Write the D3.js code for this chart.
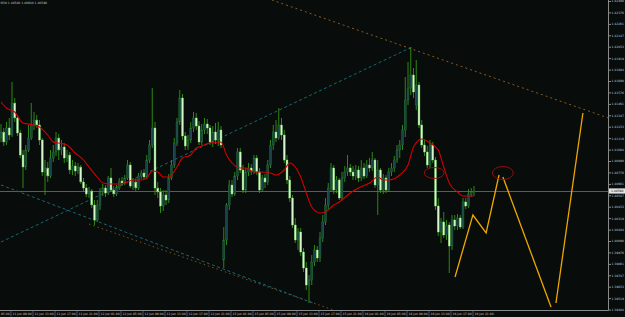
<!DOCTYPE html>
<html>
<head>
<meta charset="utf-8">
<script src="https://cdn.jsdelivr.net/npm/d3@7"></script>
<style>
html, body { margin: 0; padding: 0; background: #080c0a; }
svg { display: block; }
</style>
</head>
<body>
<svg id="chart" width="625" height="317"></svg>
<script>
// EURUSD M30 bars, 11 Jun - 16 Jun
var opens = [1.4112,1.4118,1.4108,1.4122,1.4115,1.4147,1.4132,1.4117,1.4095,1.4083,1.4100,1.4112,1.4125,1.4130,1.4125,1.4110,1.4078,1.4082,1.4074,1.4092,
  1.4098,1.4112,1.4100,1.4103,1.4092,1.4095,1.4080,1.4084,1.4079,1.4083,1.4068,1.4062,1.4056,1.4059,1.4045,1.4030,1.4045,1.4058,1.4062,1.4057,
  1.4072,1.4060,1.4056,1.4062,1.4069,1.4067,1.4072,1.4085,1.4064,1.4068,1.4062,1.4074,1.4077,1.4073,1.4090,1.4105,1.4122,1.4062,1.4058,1.4044,
  1.4055,1.4050,1.4072,1.4085,1.4107,1.4128,1.4152,1.4114,1.4104,1.4110,1.4122,1.4132,1.4124,1.4108,1.4120,1.4126,1.4122,1.4108,1.4118,1.4110,
  1.4120,1.3990,1.4010,1.4045,1.4065,1.4056,1.4074,1.4098,1.4080,1.4060,1.4078,1.4082,1.4079,1.4092,1.4078,1.4060,1.4072,1.4068,1.4085,1.4105,
  1.4118,1.4112,1.4125,1.4115,1.4090,1.4070,1.4052,1.4025,1.4010,1.4018,1.3998,1.3982,1.3965,1.3970,1.3988,1.4000,1.3992,1.4012,1.4028,1.4045,
  1.4062,1.4082,1.4060,1.4070,1.4052,1.4072,1.4078,1.4082,1.4078,1.4074,1.4080,1.4072,1.4082,1.4074,1.4085,1.4082,1.4090,1.4065,1.4080,1.4060,
  1.4072,1.4060,1.4078,1.4082,1.4090,1.4100,1.4105,1.4120,1.4150,1.4162,1.4175,1.4145,1.4165,1.4125,1.4105,1.4098,1.4085,1.4105,1.4090,1.4044,
  1.4018,1.4028,1.4015,1.4025,1.4004,1.4030,1.4024,1.4032,1.4023,1.4048,1.4044,1.4056,1.4058];
var highs = [1.4126,1.4122,1.4128,1.4132,1.4168,1.4152,1.4135,1.4120,1.4100,1.4105,1.4125,1.4147,1.4138,1.4135,1.4130,1.4112,1.4090,1.4088,1.4100,1.4105,
  1.4118,1.4116,1.4110,1.4107,1.4100,1.4098,1.4090,1.4088,1.4087,1.4085,1.4072,1.4066,1.4063,1.4061,1.4050,1.4050,1.4062,1.4066,1.4065,1.4074,
  1.4082,1.4064,1.4065,1.4072,1.4073,1.4075,1.4090,1.4088,1.4072,1.4071,1.4077,1.4080,1.4081,1.4095,1.4110,1.4162,1.4128,1.4068,1.4062,1.4060,
  1.4060,1.4076,1.4090,1.4112,1.4132,1.4160,1.4156,1.4118,1.4115,1.4128,1.4138,1.4137,1.4129,1.4126,1.4132,1.4131,1.4125,1.4124,1.4127,1.4128,
  1.4124,1.4023,1.4047,1.4070,1.4070,1.4078,1.4102,1.4102,1.4085,1.4082,1.4087,1.4086,1.4095,1.4095,1.4082,1.4075,1.4076,1.4090,1.4110,1.4125,
  1.4130,1.4142,1.4132,1.4120,1.4095,1.4074,1.4055,1.4032,1.4022,1.4022,1.4002,1.3988,1.3975,1.3995,1.4005,1.4004,1.4018,1.4035,1.4052,1.4067,
  1.4087,1.4085,1.4074,1.4072,1.4078,1.4084,1.4095,1.4086,1.4084,1.4085,1.4084,1.4090,1.4087,1.4090,1.4092,1.4098,1.4092,1.4090,1.4082,1.4076,
  1.4075,1.4082,1.4087,1.4094,1.4105,1.4110,1.4125,1.4173,1.4188,1.4203,1.4182,1.4190,1.4168,1.4130,1.4110,1.4104,1.4110,1.4108,1.4093,1.4052,
  1.4032,1.4038,1.4030,1.4028,1.4035,1.4035,1.4036,1.4035,1.4052,1.4052,1.4061,1.4062,1.4064];
var lows = [1.4108,1.4104,1.4105,1.4110,1.4113,1.4128,1.4114,1.4092,1.4062,1.4080,1.4098,1.4110,1.4120,1.4122,1.4105,1.4074,1.4055,1.4068,1.4072,1.4088,
  1.4094,1.4090,1.4095,1.4087,1.4088,1.4076,1.4075,1.4074,1.4076,1.4066,1.4058,1.4053,1.4052,1.4042,1.4025,1.4028,1.4040,1.4054,1.4053,1.4055,
  1.4058,1.4053,1.4054,1.4060,1.4064,1.4065,1.4070,1.4062,1.4060,1.4059,1.4060,1.4071,1.4070,1.4071,1.4087,1.4102,1.4055,1.4052,1.4037,1.4039,
  1.4045,1.4047,1.4070,1.4082,1.4104,1.4125,1.4110,1.4100,1.4100,1.4107,1.4118,1.4120,1.4105,1.4105,1.4116,1.4116,1.4105,1.4103,1.4106,1.4104,
  1.4102,1.3982,1.4005,1.4040,1.4053,1.4054,1.4070,1.4077,1.4057,1.4057,1.4074,1.4075,1.4076,1.4075,1.4057,1.4058,1.4062,1.4065,1.4082,1.4100,
  1.4108,1.4110,1.4110,1.4087,1.4066,1.4048,1.4022,1.4007,1.4000,1.3994,1.3978,1.3960,1.3947,1.3965,1.3984,1.3988,1.3988,1.4008,1.4025,1.4040,
  1.4058,1.4056,1.4057,1.4050,1.4050,1.4068,1.4074,1.4074,1.4070,1.4070,1.4068,1.4069,1.4071,1.4072,1.4078,1.4079,1.4062,1.4035,1.4057,1.4056,
  1.4057,1.4058,1.4074,1.4078,1.4087,1.4092,1.4100,1.4113,1.4145,1.4155,1.4152,1.4140,1.4122,1.4102,1.4094,1.4082,1.4082,1.4087,1.4040,1.4014,
  1.4007,1.4012,1.4010,1.3977,1.4000,1.4020,1.4020,1.4021,1.4021,1.4041,1.4042,1.4053,1.4054];
var closes = [1.4118,1.4108,1.4122,1.4115,1.4147,1.4132,1.4117,1.4095,1.4083,1.4100,1.4112,1.4125,1.4130,1.4125,1.4110,1.4078,1.4082,1.4074,1.4092,1.4098,
  1.4112,1.4100,1.4103,1.4092,1.4095,1.4080,1.4084,1.4079,1.4083,1.4068,1.4062,1.4056,1.4059,1.4045,1.4030,1.4045,1.4058,1.4062,1.4057,1.4072,
  1.4060,1.4056,1.4062,1.4069,1.4067,1.4072,1.4085,1.4064,1.4068,1.4062,1.4074,1.4077,1.4073,1.4090,1.4105,1.4122,1.4062,1.4058,1.4044,1.4055,
  1.4050,1.4072,1.4085,1.4107,1.4128,1.4152,1.4114,1.4104,1.4110,1.4122,1.4132,1.4124,1.4108,1.4120,1.4126,1.4122,1.4108,1.4118,1.4110,1.4120,
  1.4105,1.4010,1.4045,1.4065,1.4056,1.4074,1.4098,1.4080,1.4060,1.4078,1.4082,1.4079,1.4092,1.4078,1.4060,1.4072,1.4068,1.4085,1.4105,1.4118,
  1.4112,1.4125,1.4115,1.4090,1.4070,1.4052,1.4025,1.4010,1.4018,1.3998,1.3982,1.3965,1.3970,1.3988,1.4000,1.3992,1.4012,1.4028,1.4045,1.4062,
  1.4082,1.4060,1.4070,1.4052,1.4072,1.4078,1.4082,1.4078,1.4074,1.4080,1.4072,1.4082,1.4074,1.4085,1.4082,1.4090,1.4065,1.4080,1.4060,1.4072,
  1.4060,1.4078,1.4082,1.4090,1.4100,1.4105,1.4120,1.4150,1.4162,1.4175,1.4158,1.4165,1.4125,1.4105,1.4098,1.4085,1.4105,1.4090,1.4044,1.4018,
  1.4028,1.4015,1.4025,1.4004,1.4030,1.4024,1.4032,1.4023,1.4048,1.4044,1.4056,1.4058,1.4059];

// moving average read at some bars
var maBars = [0,2,5,8,12,14,17,19,21,24,27,30,32,35,37,40,43,46,48,51,53,55,57,59,61,64,66,69,71,72,76,80,82,84,87,89,92,95,98,100,
  103,105,107,109,111,113,116,118,121,123,127,130,134,137,139,141,145,148,150,152,153,156,159,161,163,166,168,172];
var maVals = [1.4148,1.4142,1.4138,1.4127,1.4125,1.4123,1.4115,1.4108,1.4107,1.4105,1.4097,1.4090,1.4083,1.4073,1.4067,1.4066,1.4066,1.4068,1.4070,1.4070,
  1.4072,1.4079,1.4078,1.4073,1.4073,1.4083,1.4092,1.4095,1.4102,1.4103,1.4107,1.4108,1.4095,1.4087,1.4082,1.4082,1.4078,1.4078,1.4077,1.4075,
  1.4080,1.4087,1.4083,1.4073,1.4057,1.4043,1.4037,1.4038,1.4045,1.4048,1.4057,1.4062,1.4067,1.4073,1.4070,1.4070,1.4075,1.4085,1.4103,1.4110,
  1.4111,1.4107,1.4100,1.4083,1.4067,1.4058,1.4054,1.4054];

var timeBars = [-4,4,12,20,28,36,44,52,60,68,76,84,92,100,108,116,124,132,140,148,156,164,172];
var timeLabels = ['11 Jun 05:00','11 Jun 09:00','11 Jun 13:00','11 Jun 17:00','11 Jun 21:00','12 Jun 01:00','12 Jun 05:00','12 Jun 09:00',
  '12 Jun 13:00','12 Jun 17:00','12 Jun 21:00','15 Jun 01:00','15 Jun 05:00','15 Jun 09:00','15 Jun 13:00','15 Jun 17:00','15 Jun 21:00',
  '16 Jun 01:00','16 Jun 05:00','16 Jun 09:00','16 Jun 13:00','16 Jun 17:00','16 Jun 21:00'];
var priceTicks = [1.42490,1.42376,1.42261,1.42147,1.42033,1.41919,1.41804,1.41690,1.41576,1.41461,1.41347,1.41233,1.41119,1.41004,
  1.40890,1.40776,1.40661,1.40547,1.40433,1.40319,1.40204,1.40090,1.39976,1.39861,1.39747,1.39633,1.39519,1.39404];
var bidPrice = 1.40590;
var header = 'M30 1.40580 1.40640 1.40590';

// drawn objects: [bar, price] end points
var channelUp = [[0, 1.4008], [149.5, 1.4203]];
var channelDown = [[0, 1.4065], [113.5, 1.3947]];
var resistLine = [[98.5, 1.4250], [224, 1.4129]];
var supportLine = [[32, 1.4026], [125, 1.3936]];
var zigzag = [
  [[165.1, 1.3973], [171.6, 1.4035], [176.4, 1.4017], [181.1, 1.4075]],
  [[182.5, 1.4073], [200, 1.3943]],
  [[201.8, 1.3947], [211.6, 1.4137]]
];
var ellipses = [[157.5, 1.4077, 3.6, 0.00055], [182.5, 1.4077, 3.8, 0.00065]];

var W = 625, H = 317, plotW = 608, plotH = 310;
var svg = d3.select('#chart');
svg.append('rect').attr('width', W).attr('height', H).attr('fill', '#080c0a');

var x = d3.scaleLinear().domain([0, 220]).range([1, 1 + 220 * 2.75]);
var y = d3.scaleLinear().domain([1.3940, 1.4250]).range([plotH, 0]);

svg.append('clipPath').attr('id', 'clip')
  .append('rect').attr('width', plotW).attr('height', plotH);
var plot = svg.append('g').attr('clip-path', 'url(#clip)');

// bid line
plot.append('line')
  .attr('x1', 0).attr('x2', plotW)
  .attr('y1', Math.round(y(bidPrice)) + 0.5).attr('y2', Math.round(y(bidPrice)) + 0.5)
  .attr('stroke', '#5c5c5c').attr('stroke-width', 1);

var line = d3.line().x(function (d) { return x(d[0]); }).y(function (d) { return y(d[1]); });

// channel lines
plot.append('path').attr('d', line(supportLine))
  .attr('fill', 'none').attr('stroke', '#7a5020').attr('stroke-width', 1).attr('stroke-dasharray', '1.5,3');
plot.append('path').attr('d', line(channelUp))
  .attr('fill', 'none').attr('stroke', '#1b6670').attr('stroke-width', 1).attr('stroke-dasharray', '3,2.5');
plot.append('path').attr('d', line(channelDown))
  .attr('fill', 'none').attr('stroke', '#1b6670').attr('stroke-width', 1).attr('stroke-dasharray', '3,2.5');
plot.append('path').attr('d', line(resistLine))
  .attr('fill', 'none').attr('stroke', '#8a5a22').attr('stroke-width', 1).attr('stroke-dasharray', '2,3');

// candles
var bars = d3.range(closes.length);
var bw = 1.9;
plot.append('g').selectAll('line')
  .data(bars).enter().append('line')
  .attr('x1', function (i) { return x(i); })
  .attr('x2', function (i) { return x(i); })
  .attr('y1', function (i) { return y(highs[i]); })
  .attr('y2', function (i) { return y(lows[i]); })
  .attr('stroke', '#339414').attr('stroke-width', 0.9);

plot.append('g').selectAll('rect')
  .data(bars).enter().append('rect')
  .attr('x', function (i) { return x(i) - bw / 2; })
  .attr('y', function (i) { return y(Math.max(opens[i], closes[i])); })
  .attr('width', bw)
  .attr('height', function (i) { return Math.max(0.8, Math.abs(y(opens[i]) - y(closes[i]))); })
  .attr('fill', function (i) { return closes[i] >= opens[i] ? '#17434a' : '#d4f7cc'; })
  .attr('stroke', function (i) { return closes[i] >= opens[i] ? '#2a7a3a' : '#78d468'; })
  .attr('stroke-width', 0.4);

// moving average
var maLine = d3.line()
  .x(function (d, k) { return x(maBars[k]); })
  .y(function (d) { return y(d); })
  .curve(d3.curveMonotoneX);
plot.append('path').attr('d', maLine(maVals))
  .attr('fill', 'none').attr('stroke', '#d40000').attr('stroke-width', 1.1);

// projection
plot.append('g').selectAll('path')
  .data(zigzag).enter().append('path')
  .attr('d', line)
  .attr('fill', 'none').attr('stroke', '#f0a800').attr('stroke-width', 1.3);

plot.append('g').selectAll('ellipse')
  .data(ellipses).enter().append('ellipse')
  .attr('cx', function (d) { return x(d[0]); })
  .attr('cy', function (d) { return y(d[1]); })
  .attr('rx', function (d) { return x(d[2]) - x(0); })
  .attr('ry', function (d) { return y(1.4) - y(1.4 + d[3]); })
  .attr('fill', 'none').attr('stroke', '#a30d0d').attr('stroke-width', 0.9);

// frame
svg.append('line').attr('x1', plotW + 0.5).attr('x2', plotW + 0.5).attr('y1', 0).attr('y2', plotH + 0.5)
  .attr('stroke', '#8a8a8a');
svg.append('line').attr('x1', 0).attr('x2', plotW + 0.5).attr('y1', plotH + 0.5).attr('y2', plotH + 0.5)
  .attr('stroke', '#8a8a8a');

// price axis
var yAxis = svg.append('g').attr('transform', 'translate(' + (plotW + 0.5) + ',0)')
  .call(d3.axisRight(y).tickValues(priceTicks).tickSize(2.5).tickFormat(d3.format('.5f')));
yAxis.select('.domain').remove();
yAxis.selectAll('line').attr('stroke', '#8a8a8a');
yAxis.selectAll('text').attr('x', 3).attr('fill', '#c8c8c8')
  .style('font-family', 'DejaVu Sans').style('font-size', '3px');

// bid label
var by = y(bidPrice);
svg.append('rect').attr('x', plotW + 1).attr('y', by - 2.6).attr('width', 16).attr('height', 5.2).attr('fill', '#e4e4e4');
svg.append('text').attr('x', plotW + 3).attr('y', by + 1.1).text(d3.format('.5f')(bidPrice))
  .attr('fill', '#000').style('font-family', 'DejaVu Sans').style('font-size', '3px');

// time axis
var tg = svg.append('g').selectAll('g').data(timeBars).enter().append('g')
  .attr('transform', function (d) { return 'translate(' + (x(d) - 1) + ',' + (plotH + 0.5) + ')'; });
tg.append('line').attr('y1', 0).attr('y2', 6).attr('stroke', '#8a8a8a').attr('stroke-width', 0.6);
tg.append('text').attr('x', 1.5).attr('y', 4.6)
  .text(function (d, k) { return timeLabels[k]; })
  .attr('fill', '#c8c8c8').style('font-family', 'DejaVu Sans').style('font-size', '3px');

// header
svg.append('text').attr('x', 0.5).attr('y', 3.6).text(header)
  .attr('fill', '#c8c8c8').style('font-family', 'DejaVu Sans').style('font-size', '3px');
</script>
</body>
</html>
